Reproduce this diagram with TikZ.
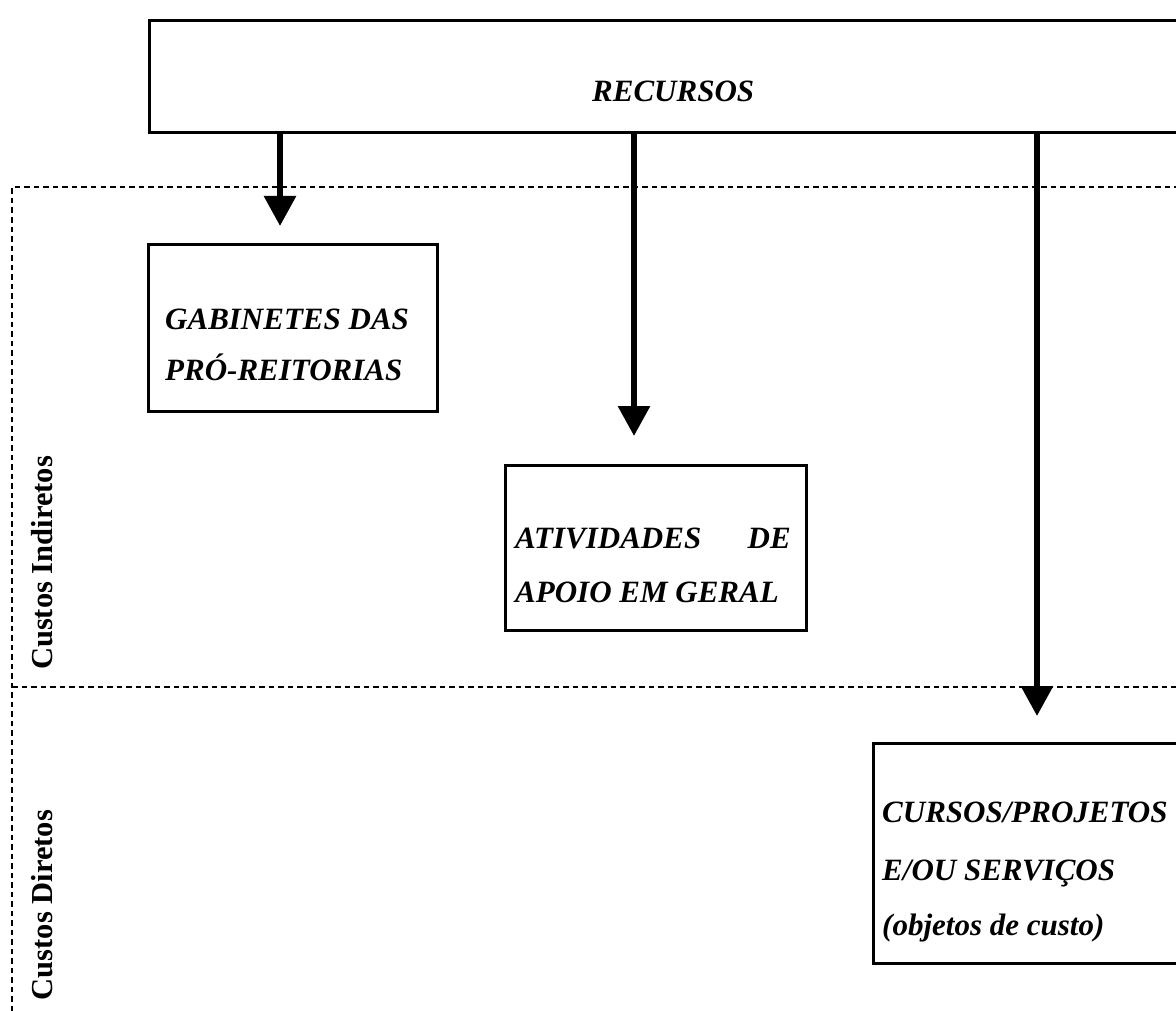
\documentclass[tikz,border=0pt]{standalone}
\usepackage{fontspec}
\setmainfont{Liberation Serif}
\usetikzlibrary{arrows.meta}

\begin{document}
\begin{tikzpicture}[x=1pt,y=-1pt,
  frame/.style={draw=black, line width=3pt, inner sep=0pt, anchor=north west},
  itxt/.style={inner sep=0pt, font=\fontsize{31}{36}\selectfont\bfseries\itshape},
  side/.style={inner sep=0pt, rotate=90, anchor=base, font=\fontsize{30.5}{36}\selectfont\bfseries},
  zone/.style={line width=2pt, dash pattern=on 5.5pt off 4pt},
  flow/.style={line width=6pt, -{Triangle[width=31pt,length=30pt]}}]
  \useasboundingbox (0,0) rectangle (1176,1011);
  \clip (0,0) rectangle (1176,1011);

  % cost zones
  \draw[zone] (12,1011) -- (12,187.5) -- (1176,187.5);
  \draw[zone] (12,687) -- (1176,687);
  \node[side] (ind) at (52,563) {Custos Indiretos};
  \node[side] (dir) at (52,905) {Custos Diretos};

  % boxes
  \node[frame, minimum width=1050pt, minimum height=112pt] (rec) at (148,19) {};
  \node[itxt, anchor=base west] (rect) at (592,102) {RECURSOS};

  \node[frame, minimum width=289pt, minimum height=167pt] (gab) at (147,243) {};
  \node[itxt, anchor=base west] (gab1) at (165,329) {GABINETES DAS};
  \node[itxt, anchor=base west] (gab2) at (165,380) {PRÓ-REITORIAS};

  \node[frame, minimum width=301pt, minimum height=165pt] (ativ) at (504,464) {};
  \node[itxt, anchor=base west] (ativ1) at (515,548) {ATIVIDADES};
  \node[itxt, anchor=base east] (ativ2) at (791,548) {DE};
  \node[itxt, anchor=base west] (ativ3) at (515,602) {APOIO EM GERAL};

  \node[frame, minimum width=400pt, minimum height=220pt] (cur) at (872,742) {};
  \node[itxt, anchor=base west] (cur1) at (882,822) {CURSOS/PROJETOS};
  \node[itxt, anchor=base west] (cur2) at (882,880) {E/OU SERVIÇOS};
  \node[itxt, anchor=base west] (cur3) at (882,935) {(objetos de custo)};

  % resource flows
  \coordinate (t1) at (280,226);
  \coordinate (t2) at (634,436);
  \coordinate (t3) at (1037,716);
  \draw[flow] (rec.south -| t1) -- (t1);
  \draw[flow] (rec.south -| t2) -- (t2);
  \draw[flow] (rec.south -| t3) -- (t3);
\end{tikzpicture}
\end{document}
